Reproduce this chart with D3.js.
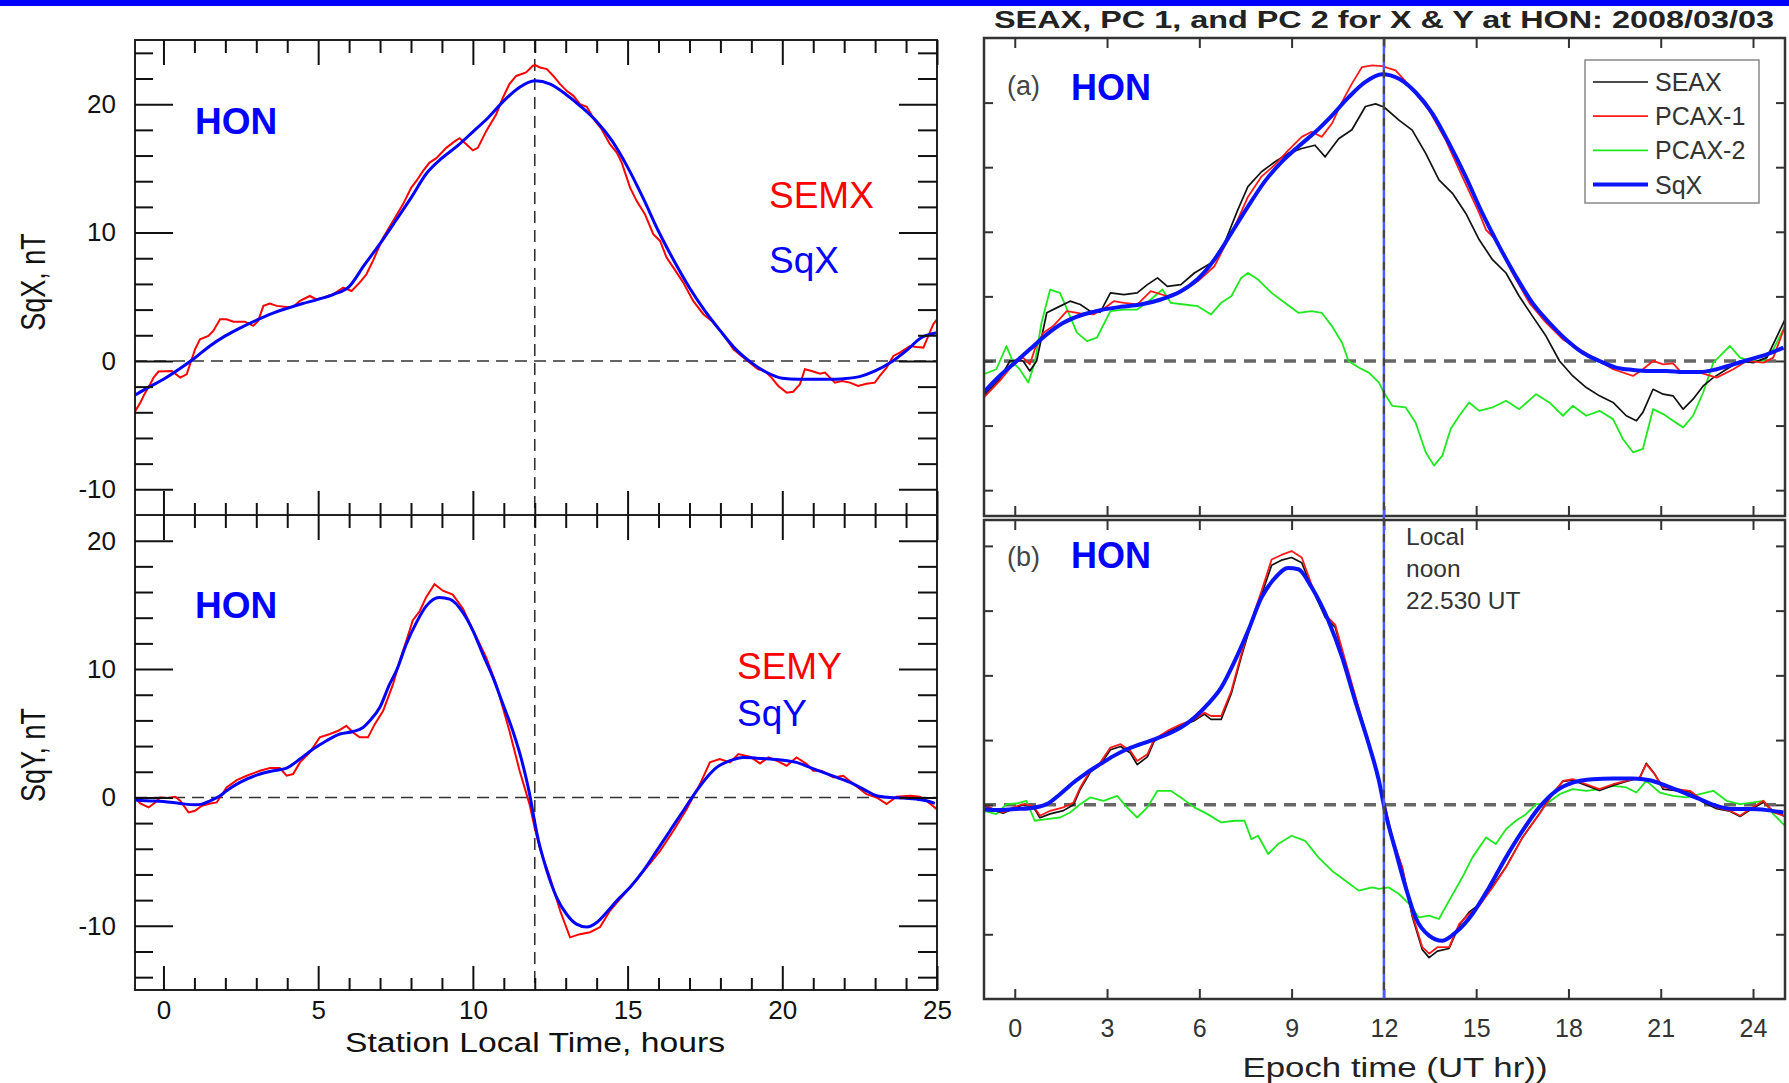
<!DOCTYPE html>
<html>
<head>
<meta charset="utf-8">
<script src="https://cdn.jsdelivr.net/npm/d3@7"></script>
<style>
  body { margin: 0; background: #fff; }
  svg { display: block; font-family: "Liberation Sans", Arial, sans-serif; }
</style>
</head>
<body>
<svg id="fig"></svg>
<script>
// ---------- data (hours, nT) ----------

// left figure, station local time
const semx = [[-0.91,-3.9],[-0.75,-3.25],[-0.59,-2.47],[-0.43,-1.82],[-0.32,-1.3],[-0.16,-0.83],[0.27,-0.78],[0.54,-1.3],[0.75,-1.04],[0.86,-0.26],[1.02,0.9],[1.18,1.69],[1.45,1.95],[1.61,2.34],[1.83,3.25],[2.04,3.25],[2.26,3.06],[2.63,3.06],[2.9,2.73],[3.06,3.12],[3.23,4.29],[3.44,4.47],[3.66,4.29],[3.98,4.2],[4.19,4.2],[4.41,4.68],[4.73,5.06],[4.95,4.8],[5.16,4.93],[5.48,5.19],[5.81,5.71],[6.08,5.45],[6.34,6.1],[6.56,6.75],[6.77,7.8],[7.1,9.6],[7.42,10.9],[7.74,12.2],[8.01,13.5],[8.17,14.0],[8.39,14.8],[8.6,15.45],[8.82,15.8],[9.14,16.6],[9.41,17.1],[9.57,17.35],[9.78,16.9],[10.0,16.4],[10.16,16.6],[10.43,17.9],[10.75,19.2],[10.97,20.5],[11.18,21.56],[11.4,22.2],[11.72,22.47],[11.94,23.0],[12.01,23.04],[12.17,22.86],[12.39,22.73],[12.6,22.2],[12.82,21.56],[13.03,21.04],[13.25,20.65],[13.46,20.0],[13.68,19.8],[13.95,18.7],[14.16,18.05],[14.43,16.88],[14.65,16.23],[14.81,15.45],[15.08,13.5],[15.29,12.47],[15.56,11.43],[15.83,9.87],[16.05,9.35],[16.26,8.05],[16.48,7.27],[16.8,6.1],[17.12,4.68],[17.45,3.64],[17.72,3.12],[17.99,2.34],[18.2,1.69],[18.42,0.9],[18.68,0.39],[18.95,-0.13],[19.22,-0.65],[19.44,-0.78],[19.65,-1.3],[19.87,-1.95],[20.14,-2.47],[20.35,-2.4],[20.57,-1.82],[20.73,-0.65],[20.95,-0.78],[21.22,-0.99],[21.38,-0.9],[21.54,-1.3],[21.7,-1.69],[21.92,-1.56],[22.19,-1.69],[22.45,-1.95],[22.72,-1.77],[22.99,-1.69],[23.15,-1.17],[23.37,-0.52],[23.59,0.39],[23.8,0.65],[24.13,1.17],[24.34,1.09],[24.56,1.04],[24.72,1.95],[24.88,2.86],[25.0,3.25]];
const sqxLocal = [[-0.91,-2.65],[-0.5,-2.08],[0,-1.43],[0.5,-0.65],[1,0.21],[1.5,1.17],[2,1.95],[2.5,2.6],[3,3.17],[3.5,3.69],[4,4.1],[4.5,4.47],[5,4.8],[5.5,5.19],[6,5.79],[6.5,7.5],[7,9.14],[7.5,10.9],[8,12.7],[8.5,14.6],[9,15.8],[9.5,16.75],[10,17.85],[10.5,18.96],[11,20.26],[11.5,21.3],[12,21.82],[12.5,21.56],[13,20.78],[13.5,19.8],[14,18.65],[14.5,17.14],[15,15.1],[15.5,12.7],[16,10.1],[16.5,7.8],[17,5.7],[17.5,3.9],[18,2.34],[18.5,0.9],[19,-0.13],[19.5,-0.9],[20,-1.35],[20.5,-1.43],[21,-1.43],[21.5,-1.43],[22,-1.38],[22.5,-1.22],[23,-0.78],[23.5,-0.13],[24,0.78],[24.5,1.82],[25,2.2]];
const semy = [[-0.91,-0.05],[-0.75,-0.47],[-0.48,-0.78],[-0.27,-0.39],[-0.11,0],[0.11,-0.05],[0.38,0.05],[0.54,-0.26],[0.81,-1.17],[1.02,-1.04],[1.24,-0.65],[1.51,-0.47],[1.72,-0.39],[2.04,0.78],[2.37,1.35],[2.69,1.69],[3.12,2.08],[3.44,2.29],[3.76,2.29],[3.98,1.69],[4.19,1.82],[4.41,2.73],[4.73,3.51],[5.05,4.68],[5.38,4.94],[5.65,5.19],[5.91,5.58],[6.13,5.06],[6.34,4.68],[6.61,4.68],[6.83,5.71],[7.1,6.75],[7.42,8.83],[7.63,10.6],[7.85,12.2],[8.06,13.8],[8.28,14.5],[8.49,15.6],[8.76,16.6],[9.03,16.1],[9.35,15.8],[9.68,14.7],[10.11,12.5],[10.43,10.9],[10.75,8.83],[11.18,5.19],[11.51,2.08],[11.83,-0.52],[12.0,-2.4],[12.17,-4.0],[12.49,-6.23],[12.82,-8.83],[13.14,-10.9],[13.46,-10.65],[13.79,-10.5],[14.11,-10.1],[14.43,-8.83],[14.75,-7.92],[15.18,-6.75],[15.62,-5.45],[16.05,-4.16],[16.48,-2.6],[16.91,-0.91],[17.34,1.04],[17.66,2.73],[17.98,2.99],[18.31,2.73],[18.58,3.38],[18.95,3.17],[19.28,2.65],[19.55,3.12],[19.82,2.86],[20.14,2.47],[20.46,3.12],[20.79,2.6],[21.0,2.08],[21.27,2.08],[21.65,1.56],[21.97,1.69],[22.3,1.04],[22.72,0.26],[23.05,0],[23.37,-0.52],[23.69,0.05],[24.13,0.13],[24.45,0.05],[24.66,-0.26],[24.99,-0.91]];
const sqyLocal = [[-0.91,-0.2],[-0.54,-0.26],[0,-0.31],[0.54,-0.47],[1.02,-0.57],[1.24,-0.52],[1.51,-0.26],[1.83,0.13],[2.04,0.52],[2.47,1.17],[3.01,1.74],[3.55,2.08],[3.98,2.29],[4.41,2.99],[4.84,3.77],[5.27,4.42],[5.7,4.94],[6.13,5.14],[6.45,5.45],[6.67,5.97],[6.99,7.0],[7.31,8.83],[7.53,9.87],[7.85,11.95],[8.17,13.6],[8.49,14.9],[8.92,15.58],[9.25,15.45],[9.68,14.4],[10.0,13.0],[10.32,11.17],[10.65,9.35],[10.97,7.27],[11.29,5.19],[11.61,2.6],[11.83,0.3],[11.99,-1.8],[12.06,-2.7],[12.39,-5.7],[12.71,-7.8],[13.03,-9.1],[13.35,-9.87],[13.68,-10.1],[14.0,-9.74],[14.32,-8.96],[14.65,-8.05],[15.08,-7.0],[15.51,-5.7],[15.94,-4.16],[16.37,-2.6],[16.8,-1.04],[17.23,0.52],[17.56,1.56],[17.88,2.34],[18.31,2.86],[18.74,3.12],[19.17,3.06],[19.6,2.99],[20.03,2.9],[20.46,2.73],[20.89,2.34],[21.32,1.95],[21.76,1.56],[22.19,1.17],[22.62,0.65],[23.05,0.13],[23.48,0],[23.91,-0.05],[24.34,-0.13],[24.66,-0.26],[24.93,-0.47]];

// right figure (a), X component
const seaxA = [[-1.01,-2.7],[-0.49,-1.41],[-0.16,0],[0.27,0],[0.49,-0.77],[0.71,0],[1.04,3.73],[1.36,4.11],[1.8,4.63],[2.13,4.37],[2.45,3.86],[2.78,3.78],[3.11,5.27],[3.55,5.14],[3.98,5.27],[4.31,5.91],[4.64,6.43],[4.96,5.78],[5.4,5.91],[5.84,6.81],[6.38,7.58],[6.82,9.13],[7.25,11.7],[7.58,13.5],[8.02,14.65],[8.45,15.4],[8.89,16.07],[9.33,16.45],[9.76,16.7],[10.09,15.8],[10.53,17.2],[10.96,17.9],[11.4,19.7],[11.73,19.9],[12.0,19.66],[12.49,18.64],[12.92,17.87],[13.36,16.07],[13.79,14.01],[14.23,12.98],[14.66,11.44],[15.1,9.38],[15.53,7.84],[15.97,6.81],[16.4,5.01],[16.83,3.47],[17.27,1.93],[17.71,0],[18.14,-1.16],[18.58,-2.06],[19.01,-2.7],[19.45,-3.21],[19.88,-4.24],[20.21,-4.63],[20.42,-3.98],[20.75,-2.19],[21.08,-2.57],[21.4,-2.7],[21.73,-3.73],[22.05,-2.96],[22.38,-1.93],[22.71,-1.29],[23.14,-0.64],[23.58,0],[24.01,-0.13],[24.45,0.26],[25.04,3.21]];
const pcax1A = [[-1.01,-2.83],[-0.49,-1.54],[-0.05,-0.26],[0.27,0.26],[0.49,-0.26],[0.65,0.9],[0.93,2.19],[1.25,2.7],[1.69,3.86],[2.13,3.68],[2.56,3.6],[2.89,4.04],[3.22,4.63],[3.55,4.5],[3.98,4.37],[4.42,5.4],[4.96,5.01],[5.51,5.53],[5.95,6.17],[6.49,7.33],[6.82,8.87],[7.15,10.4],[7.58,12.7],[8.02,14.27],[8.45,15.17],[8.89,16.3],[9.33,17.35],[9.65,17.74],[9.98,17.35],[10.31,18.38],[10.64,20.05],[10.96,21.47],[11.29,22.75],[11.62,22.88],[11.94,22.83],[12.38,22.49],[12.92,21.08],[13.47,19.4],[14.01,17.1],[14.55,14.27],[15.1,11.44],[15.32,10.15],[15.64,9.38],[16.18,6.81],[16.73,4.5],[17.27,2.96],[17.82,1.67],[18.36,0.9],[18.9,0.13],[19.45,-0.64],[20.1,-1.16],[20.42,-0.64],[20.75,0],[21.08,-0.26],[21.4,-0.18],[21.62,-0.77],[22.27,-0.9],[22.82,-1.29],[23.36,-0.64],[23.79,0],[24.34,-0.13],[24.66,0.26],[25.04,2.7]];
const pcax2A = [[-1.01,-1.03],[-0.6,-0.64],[-0.27,1.16],[-0.05,-0.13],[0.16,-0.64],[0.44,-1.67],[0.65,-0.13],[0.87,2.96],[1.15,5.53],[1.47,5.27],[1.75,3.73],[2.02,2.19],[2.35,1.54],[2.67,1.8],[3.11,3.86],[3.55,3.98],[3.98,3.98],[4.42,4.76],[4.8,5.53],[5.07,4.5],[5.51,4.37],[5.95,4.24],[6.38,3.6],[6.71,4.5],[7.04,5.01],[7.36,6.43],[7.58,6.81],[7.91,6.3],[8.35,5.27],[8.78,4.5],[9.22,3.73],[9.65,3.86],[9.98,3.73],[10.31,2.7],[10.64,1.41],[10.85,0],[11.18,-0.51],[11.51,-0.9],[11.84,-1.67],[12.0,-2.44],[12.27,-3.47],[12.71,-3.6],[13.03,-4.76],[13.36,-7.07],[13.63,-8.1],[13.9,-7.33],[14.17,-5.27],[14.45,-4.24],[14.77,-3.21],[15.1,-3.86],[15.53,-3.6],[15.97,-3.08],[16.4,-3.73],[16.95,-2.57],[17.38,-3.21],[17.82,-4.24],[18.14,-3.47],[18.58,-4.24],[19.01,-3.86],[19.45,-4.5],[19.77,-6.04],[20.1,-7.07],[20.42,-6.81],[20.75,-3.73],[21.08,-4.11],[21.4,-4.63],[21.73,-5.14],[22.05,-4.24],[22.38,-2.44],[22.71,-0.13],[22.93,0.39],[23.25,1.16],[23.58,0.26],[23.9,0],[24.34,0],[24.66,0.9],[25.04,2.7]];
const sqxA = [[-1.01,-2.44],[-0.6,-1.41],[0,-0.13],[0.49,0.9],[1.04,2.06],[1.58,2.96],[2.13,3.52],[2.78,3.93],[3.44,4.19],[4.09,4.37],[4.75,4.76],[5.4,5.4],[5.95,6.35],[6.49,7.84],[7.04,9.9],[7.58,11.95],[8.13,13.9],[8.67,15.4],[9.22,16.6],[9.76,17.7],[10.31,19.0],[10.85,20.4],[11.4,21.6],[11.94,22.2],[12.49,21.85],[13.03,20.8],[13.58,19.15],[14.12,16.84],[14.66,14.27],[15.2,11.44],[15.75,8.87],[16.29,6.56],[16.83,4.5],[17.38,2.96],[17.92,1.67],[18.47,0.64],[19.01,0],[19.55,-0.51],[20.1,-0.69],[20.64,-0.77],[21.18,-0.77],[21.73,-0.85],[22.27,-0.85],[22.82,-0.64],[23.36,-0.26],[23.9,0.13],[24.45,0.51],[24.99,1.03]];

// right figure (b), Y component
const seayB = [[-1.01,0.0],[-0.71,-0.4],[-0.38,-0.65],[-0.05,-0.3],[0.27,0.0],[0.6,-0.15],[0.82,-1.0],[1.15,-0.7],[1.58,-0.45],[1.91,0.0],[2.13,1.2],[2.45,2.5],[2.78,3.1],[3.11,4.25],[3.44,4.5],[3.76,4.0],[3.98,3.1],[4.31,3.7],[4.53,4.9],[4.96,5.6],[5.4,6.1],[5.84,6.5],[6.16,7.0],[6.38,6.6],[6.71,6.6],[7.04,8.6],[7.36,11.4],[7.69,14.0],[8.02,16.2],[8.35,18.5],[8.67,18.9],[9.0,19.1],[9.33,18.7],[9.65,16.8],[10.09,14.5],[10.42,13.7],[10.75,10.9],[11.18,7.4],[11.62,3.8],[12.05,-0.3],[12.27,-2.6],[12.6,-4.9],[12.92,-8.6],[13.25,-11.2],[13.47,-11.8],[13.74,-11.3],[14.12,-11.1],[14.45,-9.3],[14.77,-8.3],[15.1,-7.7],[15.53,-6.3],[15.97,-4.8],[16.51,-2.5],[17.05,-0.7],[17.49,0.9],[17.82,1.8],[18.14,1.9],[18.58,1.5],[19.01,1.1],[19.45,1.5],[19.88,1.8],[20.32,2.1],[20.53,3.2],[20.8,2.4],[21.08,1.2],[21.51,1.1],[21.95,1.0],[22.38,0.2],[22.82,-0.3],[23.25,-0.5],[23.58,-0.9],[23.9,-0.4],[24.34,0.2],[24.66,-0.5],[25.04,-0.9]];
const pcay1B = [[-1.01,0.05],[-0.71,-0.33],[-0.38,-0.59],[-0.05,-0.2],[0.27,0.05],[0.6,-0.08],[0.82,-0.85],[1.15,-0.46],[1.58,-0.2],[1.91,0.18],[2.13,1.34],[2.45,2.62],[2.78,3.26],[3.11,4.42],[3.44,4.68],[3.76,4.16],[3.98,3.39],[4.31,3.9],[4.53,5.06],[4.96,5.71],[5.4,6.22],[5.84,6.6],[6.16,7.12],[6.38,6.86],[6.71,6.86],[7.04,8.79],[7.36,11.6],[7.69,14.2],[8.02,16.5],[8.35,18.95],[8.67,19.3],[9.0,19.6],[9.33,19.1],[9.65,17.0],[10.09,14.7],[10.42,13.9],[10.75,11.1],[11.18,7.5],[11.62,3.9],[12.05,-0.2],[12.27,-2.52],[12.6,-4.83],[12.92,-8.43],[13.25,-11.0],[13.47,-11.5],[13.74,-11.0],[14.12,-11.0],[14.45,-9.2],[14.77,-8.43],[15.1,-7.79],[15.53,-6.38],[15.97,-4.83],[16.51,-2.52],[17.05,-0.72],[17.49,0.82],[17.82,1.85],[18.14,1.98],[18.58,1.59],[19.01,1.21],[19.45,1.59],[19.88,1.85],[20.32,2.11],[20.53,3.14],[20.8,2.36],[21.08,1.34],[21.51,1.21],[21.95,1.08],[22.38,0.31],[22.82,-0.2],[23.25,-0.46],[23.58,-0.85],[23.9,-0.33],[24.34,0.31],[24.66,-0.59],[25.04,-0.85]];
const pcay2B = [[-1.01,-0.46],[-0.6,-0.72],[-0.27,0.05],[0.05,0.1],[0.38,0.31],[0.65,-1.23],[1.04,-1.1],[1.47,-0.98],[1.8,-0.59],[2.13,0.05],[2.45,0.57],[2.89,0.31],[3.33,0.69],[3.65,-0.2],[3.98,-0.98],[4.31,-0.2],[4.64,1.08],[5.07,1.08],[5.4,0.57],[5.84,-0.2],[6.27,-0.72],[6.71,-1.36],[7.15,-1.23],[7.47,-1.23],[7.69,-2.65],[7.91,-2.39],[8.24,-3.8],[8.56,-3.03],[9.0,-2.39],[9.44,-2.78],[9.87,-4.06],[10.31,-5.09],[10.75,-5.86],[11.18,-6.63],[11.62,-6.38],[11.84,-6.5],[12.16,-6.38],[12.49,-6.89],[12.82,-7.66],[13.14,-8.7],[13.47,-8.56],[13.79,-8.82],[14.12,-7.4],[14.55,-5.6],[14.88,-4.06],[15.32,-2.52],[15.64,-3.03],[15.97,-1.88],[16.29,-1.23],[16.62,-0.72],[16.95,0.05],[17.27,0.05],[17.71,0.82],[18.14,1.21],[18.58,1.08],[19.01,1.21],[19.45,1.47],[19.88,1.34],[20.21,0.95],[20.53,1.85],[20.97,0.95],[21.4,0.69],[21.84,0.57],[22.27,0.82],[22.71,1.08],[23.14,0.31],[23.58,0.05],[24.01,0.18],[24.34,0.31],[24.66,-0.72],[25.04,-1.62]];
const sqyB = [[-1.01,-0.33],[-0.6,-0.41],[0,-0.33],[0.49,-0.26],[1.04,0.05],[1.47,0.82],[1.91,1.72],[2.35,2.49],[2.78,3.14],[3.22,3.78],[3.65,4.29],[4.09,4.68],[4.53,5.06],[4.96,5.45],[5.4,5.96],[5.84,6.74],[6.27,7.76],[6.71,9.05],[7.15,11.1],[7.58,13.4],[8.02,16.0],[8.45,17.5],[8.89,18.3],[9.22,18.2],[9.65,16.8],[10.2,14.2],[10.64,11.4],[11.07,8.0],[11.51,4.68],[11.84,1.85],[12.05,-0.6],[12.38,-3.55],[12.71,-6.38],[13.03,-8.7],[13.47,-10.1],[13.9,-10.5],[14.34,-9.85],[14.88,-8.43],[15.42,-6.38],[15.97,-4.06],[16.51,-2.0],[17.05,-0.2],[17.6,1.08],[18.14,1.72],[18.79,1.98],[19.45,2.03],[20.1,2.03],[20.64,1.9],[21.18,1.47],[21.73,0.95],[22.27,0.44],[22.82,-0.08],[23.36,-0.33],[23.9,-0.33],[24.45,-0.41],[24.99,-0.59]];

// tick values and labels
const leftXMajor = [0, 5, 10, 15, 20, 25];
const leftXMinor = [1, 2, 3, 4, 6, 7, 8, 9, 11, 12, 13, 14, 16, 17, 18, 19, 21, 22, 23, 24];
const leftYMajor = [-10, 0, 10, 20];
const topYMinor = [-8, -6, -4, -2, 2, 4, 6, 8, 12, 14, 16, 18, 22, 24];
const botYMinor = [-14, -12, -8, -6, -4, -2, 2, 4, 6, 8, 12, 14, 16, 18];
const rightXTicks = [0, 3, 6, 9, 12, 15, 18, 21, 24];
const rightYTicks = [-10, -5, 0, 5, 10, 15, 20];
const legendNames = ["SEAX", "PCAX-1", "PCAX-2", "SqX"];
const noonText = ["Local", "noon", "22.530 UT"];

// ---------- drawing ----------
const W = 1789, H = 1083;
const svg = d3.select("#fig").attr("width", W).attr("height", H);

// blue band on top of the slide
svg.append("rect").attr("width", W).attr("height", 6).attr("fill", "#0000ff");

const xL = d3.scaleLinear().domain([-0.92, 25]).range([135, 937]);
const yTop = d3.scaleLinear().domain([-12, 25]).range([515, 40]);
const yBot = d3.scaleLinear().domain([-15, 22]).range([990, 515]);

const xR = d3.scaleLinear().domain([-1, 25.04]).range([984, 1785]);
const yA = d3.scaleLinear().domain([-12, 25]).range([516, 38]);
const yB = d3.scaleLinear().domain([-15, 22]).range([999, 520]);

function addAxis(g, axis, tx, ty, color, fontSize) {
  const a = g.append("g")
    .attr("transform", `translate(${tx},${ty})`)
    .call(axis);
  a.select(".domain").remove();
  a.attr("font-family", null).attr("font-size", fontSize || 26).attr("color", color);
  a.selectAll(".tick line").attr("stroke-width", 2);
  return a;
}

function clip(g, id, x, y) {
  g.append("clipPath").attr("id", id).append("rect")
    .attr("x", x.range()[0]).attr("y", d3.min(y.range()))
    .attr("width", x.range()[1] - x.range()[0])
    .attr("height", Math.abs(y.range()[0] - y.range()[1]));
}

// left panels (SEM vs Sq, station local time)
function leftPanel(y, red, blue, yMinor, id, xLabels) {
  const g = svg.append("g");
  const top = y.range()[1], bottom = y.range()[0];
  clip(g, id, xL, y);

  g.append("line")
    .attr("x1", xL.range()[0]).attr("x2", xL.range()[1])
    .attr("y1", y(0)).attr("y2", y(0))
    .attr("stroke", "#333").attr("stroke-width", 1.6).attr("stroke-dasharray", "12,7");
  g.append("line")
    .attr("x1", xL(12)).attr("x2", xL(12))
    .attr("y1", top).attr("y2", bottom)
    .attr("stroke", "#333").attr("stroke-width", 1.6).attr("stroke-dasharray", "12,7");

  const line = d3.line().x(d => xL(d[0])).y(d => y(d[1]));
  g.append("path").datum(red)
    .attr("clip-path", `url(#${id})`)
    .attr("fill", "none").attr("stroke", "#ff0000").attr("stroke-width", 2)
    .attr("d", line.curve(d3.curveLinear));
  g.append("path").datum(blue)
    .attr("clip-path", `url(#${id})`)
    .attr("fill", "none").attr("stroke", "#0000ff").attr("stroke-width", 3)
    .attr("d", line.curve(d3.curveMonotoneX));

  g.append("rect")
    .attr("x", xL.range()[0]).attr("y", top)
    .attr("width", xL.range()[1] - xL.range()[0]).attr("height", bottom - top)
    .attr("fill", "none").attr("stroke", "#222").attr("stroke-width", 2);

  const fmt = d => String(d);
  addAxis(g, d3.axisLeft(y).tickValues(leftYMajor).tickSize(-38).tickPadding(19).tickFormat(fmt), xL.range()[0], 0, "#111");
  addAxis(g, d3.axisLeft(y).tickValues(yMinor).tickSize(-18).tickFormat(""), xL.range()[0], 0, "#111");
  addAxis(g, d3.axisRight(y).tickValues(leftYMajor).tickSize(-38).tickFormat(""), xL.range()[1], 0, "#111");
  addAxis(g, d3.axisRight(y).tickValues(yMinor).tickSize(-19).tickFormat(""), xL.range()[1], 0, "#111");

  addAxis(g, d3.axisTop(xL).tickValues(leftXMajor).tickSize(-25).tickFormat(""), 0, top, "#111");
  addAxis(g, d3.axisTop(xL).tickValues(leftXMinor).tickSize(-13).tickFormat(""), 0, top, "#111");
  addAxis(g, d3.axisBottom(xL).tickValues(leftXMajor).tickSize(-24).tickPadding(11)
    .tickFormat(xLabels ? fmt : ""), 0, bottom, "#111");
  addAxis(g, d3.axisBottom(xL).tickValues(leftXMinor).tickSize(-12).tickFormat(""), 0, bottom, "#111");
  return g;
}

const gTop = leftPanel(yTop, semx, sqxLocal, topYMinor, "clipLX", false);
const gBot = leftPanel(yBot, semy, sqyLocal, botYMinor, "clipLY", true);

const hon = (g, x, y, size) => g.append("text").attr("x", x).attr("y", y)
  .attr("font-size", size).attr("font-weight", "bold").attr("fill", "#0000ff").text("HON");
const label = (g, x, y, t, c) => g.append("text").attr("x", x).attr("y", y)
  .attr("font-size", 37).attr("fill", c).text(t);

hon(gTop, 195, 134, 37);
label(gTop, 769, 208, "SEMX", "#ff0000");
label(gTop, 769, 273, "SqX", "#0000ff");
hon(gBot, 195, 618, 37);
label(gBot, 737, 679, "SEMY", "#ff0000");
label(gBot, 737, 726, "SqY", "#0000ff");

svg.append("text").attr("transform", "translate(45,282) scale(1.3,1) rotate(-90)")
  .attr("text-anchor", "middle").attr("font-size", 27).attr("fill", "#111").text("SqX, nT");
svg.append("text").attr("transform", "translate(45,755) scale(1.3,1) rotate(-90)")
  .attr("text-anchor", "middle").attr("font-size", 27).attr("fill", "#111").text("SqY,  nT");
svg.append("text").attr("x", 535).attr("y", 1052)
  .attr("text-anchor", "middle").attr("font-size", 27).attr("fill", "#111")
  .attr("textLength", 380).attr("lengthAdjust", "spacingAndGlyphs")
  .text("Station Local Time, hours");

// right panels (SEA, PCA, Sq in epoch time)
function rightPanel(y, series, id, xLabels) {
  const g = svg.append("g");
  const top = y.range()[1], bottom = y.range()[0];
  clip(g, id, xR, y);

  g.append("line")
    .attr("x1", xR.range()[0]).attr("x2", xR.range()[1])
    .attr("y1", y(0)).attr("y2", y(0))
    .attr("stroke", "#666").attr("stroke-width", 3.5).attr("stroke-dasharray", "12,8");

  const line = d3.line().x(d => xR(d[0])).y(d => y(d[1]));
  series.forEach(s => {
    g.append("path").datum(s.data)
      .attr("clip-path", `url(#${id})`)
      .attr("fill", "none").attr("stroke", s.color).attr("stroke-width", s.width)
      .attr("stroke-linejoin", "round")
      .attr("d", line.curve(s.smooth ? d3.curveMonotoneX : d3.curveLinear));
  });

  g.append("rect")
    .attr("x", xR.range()[0]).attr("y", top)
    .attr("width", xR.range()[1] - xR.range()[0]).attr("height", bottom - top)
    .attr("fill", "none").attr("stroke", "#333").attr("stroke-width", 2.5);

  addAxis(g, d3.axisLeft(y).tickValues(rightYTicks).tickSize(-9).tickFormat(""), xR.range()[0], 0, "#333");
  addAxis(g, d3.axisRight(y).tickValues(rightYTicks).tickSize(-9).tickFormat(""), xR.range()[1], 0, "#333");
  addAxis(g, d3.axisTop(xR).tickValues(rightXTicks).tickSize(-10).tickFormat(""), 0, top, "#333");
  addAxis(g, d3.axisBottom(xR).tickValues(rightXTicks).tickSize(-10).tickPadding(20)
    .tickFormat(xLabels ? d => String(d) : ""), 0, bottom, "#333", 25);
  return g;
}

const colors = { sea: "#111111", pc1: "#ff1a1a", pc2: "#1ee81e", sq: "#0a14ff" };

const gA = rightPanel(yA, [
  { data: pcax2A, color: colors.pc2, width: 1.8 },
  { data: seaxA, color: colors.sea, width: 1.7 },
  { data: pcax1A, color: colors.pc1, width: 1.8 },
  { data: sqxA, color: colors.sq, width: 4, smooth: true }
], "clipRA", false);

const gB = rightPanel(yB, [
  { data: pcay2B, color: colors.pc2, width: 1.8 },
  { data: seayB, color: colors.sea, width: 1.7 },
  { data: pcay1B, color: colors.pc1, width: 1.8 },
  { data: sqyB, color: colors.sq, width: 4, smooth: true }
], "clipRB", true);

// local noon marker through both panels
svg.append("line")
  .attr("x1", xR(12)).attr("x2", xR(12)).attr("y1", yA.range()[1]).attr("y2", yB.range()[0])
  .attr("stroke", "#444").attr("stroke-width", 2.5).attr("stroke-dasharray", "8,8");
svg.append("line")
  .attr("x1", xR(12)).attr("x2", xR(12)).attr("y1", yA.range()[1]).attr("y2", yB.range()[0])
  .attr("stroke", "#4a5cff").attr("stroke-width", 2.5).attr("stroke-dasharray", "8,8").attr("stroke-dashoffset", 8);

svg.append("text").attr("x", 1007).attr("y", 95).attr("font-size", 27).attr("fill", "#444").text("(a)");
svg.append("text").attr("x", 1007).attr("y", 566).attr("font-size", 27).attr("fill", "#444").text("(b)");
hon(gA, 1071, 100, 36);
hon(gB, 1071, 568, 36);

noonText.forEach((t, i) => {
  svg.append("text").attr("x", 1406).attr("y", 545 + i * 32)
    .attr("font-size", 24.5).attr("fill", "#333").text(t);
});

// legend
const leg = svg.append("g").attr("transform", "translate(1585,60)");
leg.append("rect").attr("width", 174).attr("height", 143)
  .attr("fill", "#fff").attr("stroke", "#888").attr("stroke-width", 1.5);
const legColors = [colors.sea, colors.pc1, colors.pc2, colors.sq];
const legWidths = [1.7, 1.8, 1.8, 4];
legendNames.forEach((n, i) => {
  const yy = 22 + i * 34.2;
  leg.append("line").attr("x1", 8).attr("x2", 63).attr("y1", yy).attr("y2", yy)
    .attr("stroke", legColors[i]).attr("stroke-width", legWidths[i]);
  leg.append("text").attr("x", 70).attr("y", yy + 9).attr("font-size", 25).attr("fill", "#333").text(n);
});

// title and x label
svg.append("text").attr("x", 1384).attr("y", 28).attr("text-anchor", "middle")
  .attr("font-size", 24).attr("font-weight", "bold").attr("fill", "#222")
  .attr("textLength", 780).attr("lengthAdjust", "spacingAndGlyphs")
  .text("SEAX, PC 1, and PC 2 for X & Y at HON: 2008/03/03");
svg.append("text").attr("x", 1395).attr("y", 1077).attr("text-anchor", "middle")
  .attr("font-size", 27).attr("fill", "#222")
  .attr("textLength", 305).attr("lengthAdjust", "spacingAndGlyphs")
  .text("Epoch time (UT hr))");
</script>
</body>
</html>
